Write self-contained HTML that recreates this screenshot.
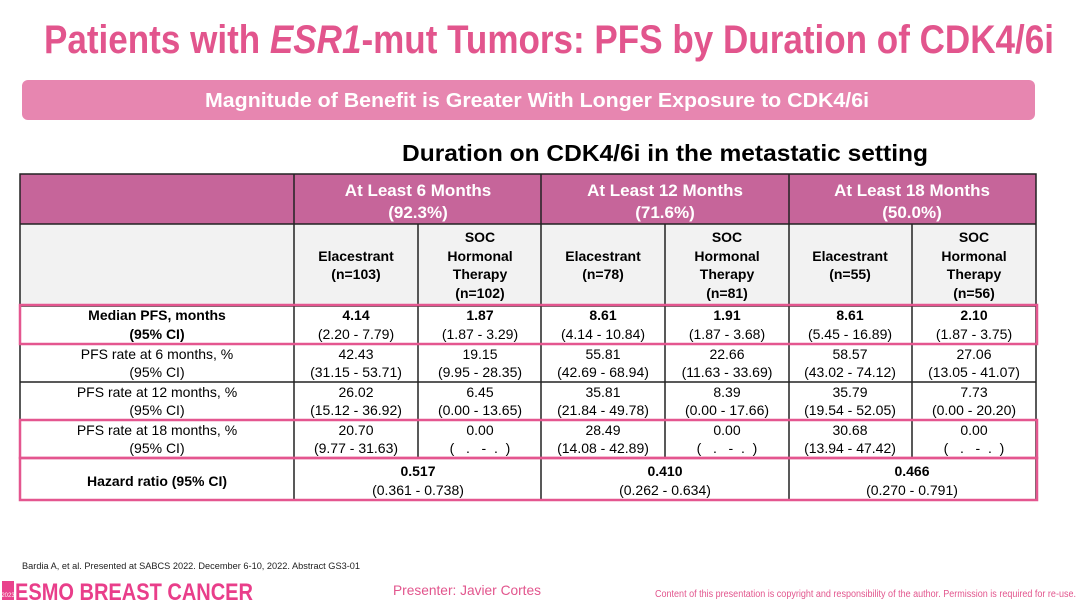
<!DOCTYPE html>
<html><head><meta charset="utf-8"><style>
html,body{margin:0;padding:0;background:#fff;}
svg{display:block;}
text{font-family:"Liberation Sans",Arial,sans-serif;}
</style></head><body>
<svg width="1080" height="610" viewBox="0 0 1080 610" xmlns="http://www.w3.org/2000/svg">
<text x="549" y="53" text-anchor="middle" font-size="40" font-weight="bold" fill="#e2558d" textLength="1010" lengthAdjust="spacingAndGlyphs">Patients with <tspan font-style="italic">ESR1</tspan>-mut Tumors: PFS by Duration of CDK4/6i</text>
<rect x="22" y="80" width="1013" height="40" rx="6" fill="#e786b0"/>
<text x="537" y="107" text-anchor="middle" font-size="20" font-weight="bold" fill="#fff" textLength="664" lengthAdjust="spacingAndGlyphs">Magnitude of Benefit is Greater With Longer Exposure to CDK4/6i</text>
<text x="665" y="161" text-anchor="middle" font-size="23" font-weight="bold" fill="#000" textLength="526" lengthAdjust="spacingAndGlyphs">Duration on CDK4/6i in the metastatic setting</text>

<rect x="20" y="174" width="1016" height="50" fill="#c6659a"/>
<rect x="20" y="224" width="1016" height="82" fill="#f2f2f2"/>
<g stroke="#222" stroke-width="1.5" fill="none">
<rect x="20" y="174" width="1016" height="326"/>
<line x1="20" y1="224" x2="1036" y2="224"/>
<line x1="20" y1="306" x2="1036" y2="306"/>
<line x1="20" y1="344" x2="1036" y2="344"/>
<line x1="20" y1="382" x2="1036" y2="382"/>
<line x1="20" y1="420" x2="1036" y2="420"/>
<line x1="20" y1="458" x2="1036" y2="458"/>
<line x1="294" y1="174" x2="294" y2="500"/>
<line x1="541" y1="174" x2="541" y2="500"/>
<line x1="789" y1="174" x2="789" y2="500"/>
<line x1="418" y1="224" x2="418" y2="458"/>
<line x1="665" y1="224" x2="665" y2="458"/>
<line x1="912" y1="224" x2="912" y2="458"/>
</g>
<g stroke="#e4568f" stroke-width="2.5" fill="none">
<rect x="20" y="305" width="1017" height="39"/>
<rect x="20" y="420" width="1017" height="38"/>
<rect x="20" y="458" width="1017" height="42"/>
</g>

<g font-size="17" font-weight="bold" fill="#fff" text-anchor="middle">
<text x="418" y="196">At Least 6 Months</text><text x="418" y="218">(92.3%)</text>
<text x="665" y="196">At Least 12 Months</text><text x="665" y="218">(71.6%)</text>
<text x="912" y="196">At Least 18 Months</text><text x="912" y="218">(50.0%)</text>
</g>
<g font-size="14" font-weight="bold" fill="#000" text-anchor="middle">
<text x="356" y="261">Elacestrant</text><text x="356" y="279">(n=103)</text>
<text x="480" y="242">SOC</text><text x="480" y="261">Hormonal</text><text x="480" y="279">Therapy</text><text x="480" y="298">(n=102)</text>
<text x="603" y="261">Elacestrant</text><text x="603" y="279">(n=78)</text>
<text x="727" y="242">SOC</text><text x="727" y="261">Hormonal</text><text x="727" y="279">Therapy</text><text x="727" y="298">(n=81)</text>
<text x="850" y="261">Elacestrant</text><text x="850" y="279">(n=55)</text>
<text x="974" y="242">SOC</text><text x="974" y="261">Hormonal</text><text x="974" y="279">Therapy</text><text x="974" y="298">(n=56)</text>
<text x="157" y="320">Median PFS, months</text><text x="157" y="339">(95% CI)</text>
<text x="356" y="320">4.14</text><text x="480" y="320">1.87</text><text x="603" y="320">8.61</text><text x="727" y="320">1.91</text><text x="850" y="320">8.61</text><text x="974" y="320">2.10</text>
<text x="157" y="486">Hazard ratio (95% CI)</text>
<text x="418" y="476">0.517</text><text x="665" y="476">0.410</text><text x="912" y="476">0.466</text>
</g>
<g font-size="14" fill="#000" text-anchor="middle">
<text x="356" y="339">(2.20 - 7.79)</text><text x="480" y="339">(1.87 - 3.29)</text><text x="603" y="339">(4.14 - 10.84)</text><text x="727" y="339">(1.87 - 3.68)</text><text x="850" y="339">(5.45 - 16.89)</text><text x="974" y="339">(1.87 - 3.75)</text>
<text x="157" y="359">PFS rate at 6 months, %</text><text x="157" y="377">(95% CI)</text>
<text x="356" y="359">42.43</text><text x="356" y="377">(31.15 - 53.71)</text>
<text x="480" y="359">19.15</text><text x="480" y="377">(9.95 - 28.35)</text>
<text x="603" y="359">55.81</text><text x="603" y="377">(42.69 - 68.94)</text>
<text x="727" y="359">22.66</text><text x="727" y="377">(11.63 - 33.69)</text>
<text x="850" y="359">58.57</text><text x="850" y="377">(43.02 - 74.12)</text>
<text x="974" y="359">27.06</text><text x="974" y="377">(13.05 - 41.07)</text>
<text x="157" y="397">PFS rate at 12 months, %</text><text x="157" y="415">(95% CI)</text>
<text x="356" y="397">26.02</text><text x="356" y="415">(15.12 - 36.92)</text>
<text x="480" y="397">6.45</text><text x="480" y="415">(0.00 - 13.65)</text>
<text x="603" y="397">35.81</text><text x="603" y="415">(21.84 - 49.78)</text>
<text x="727" y="397">8.39</text><text x="727" y="415">(0.00 - 17.66)</text>
<text x="850" y="397">35.79</text><text x="850" y="415">(19.54 - 52.05)</text>
<text x="974" y="397">7.73</text><text x="974" y="415">(0.00 - 20.20)</text>
<text x="157" y="435">PFS rate at 18 months, %</text><text x="157" y="453">(95% CI)</text>
<text x="356" y="435">20.70</text><text x="356" y="453">(9.77 - 31.63)</text>
<text x="480" y="435">0.00</text><text x="480" y="453">(&#160;&#160;&#160;.&#160;&#160;&#160;-&#160;&#160;.&#160;&#160;)</text>
<text x="603" y="435">28.49</text><text x="603" y="453">(14.08 - 42.89)</text>
<text x="727" y="435">0.00</text><text x="727" y="453">(&#160;&#160;&#160;.&#160;&#160;&#160;-&#160;&#160;.&#160;&#160;)</text>
<text x="850" y="435">30.68</text><text x="850" y="453">(13.94 - 47.42)</text>
<text x="974" y="435">0.00</text><text x="974" y="453">(&#160;&#160;&#160;.&#160;&#160;&#160;-&#160;&#160;.&#160;&#160;)</text>
<text x="418" y="495">(0.361 - 0.738)</text><text x="665" y="495">(0.262 - 0.634)</text><text x="912" y="495">(0.270 - 0.791)</text>
</g>

<text x="22" y="569" font-size="9" fill="#222" textLength="338" lengthAdjust="spacingAndGlyphs">Bardia A, et al. Presented at SABCS 2022. December 6-10, 2022. Abstract GS3-01</text>
<rect x="2" y="581" width="12" height="19" fill="#e9428c"/>
<text x="8" y="597" font-size="6" fill="#fff" text-anchor="middle">2023</text>
<text x="15" y="600" font-size="24" font-weight="bold" fill="#e93e8a" textLength="238" lengthAdjust="spacingAndGlyphs">ESMO BREAST CANCER</text>
<text x="393" y="595" font-size="14" fill="#e2558d" textLength="148" lengthAdjust="spacingAndGlyphs">Presenter: Javier Cortes</text>
<text x="655" y="597" font-size="10" fill="#e2558d" textLength="421" lengthAdjust="spacingAndGlyphs">Content of this presentation is copyright and responsibility of the author. Permission is required for re-use.</text>
</svg>
</body></html>
